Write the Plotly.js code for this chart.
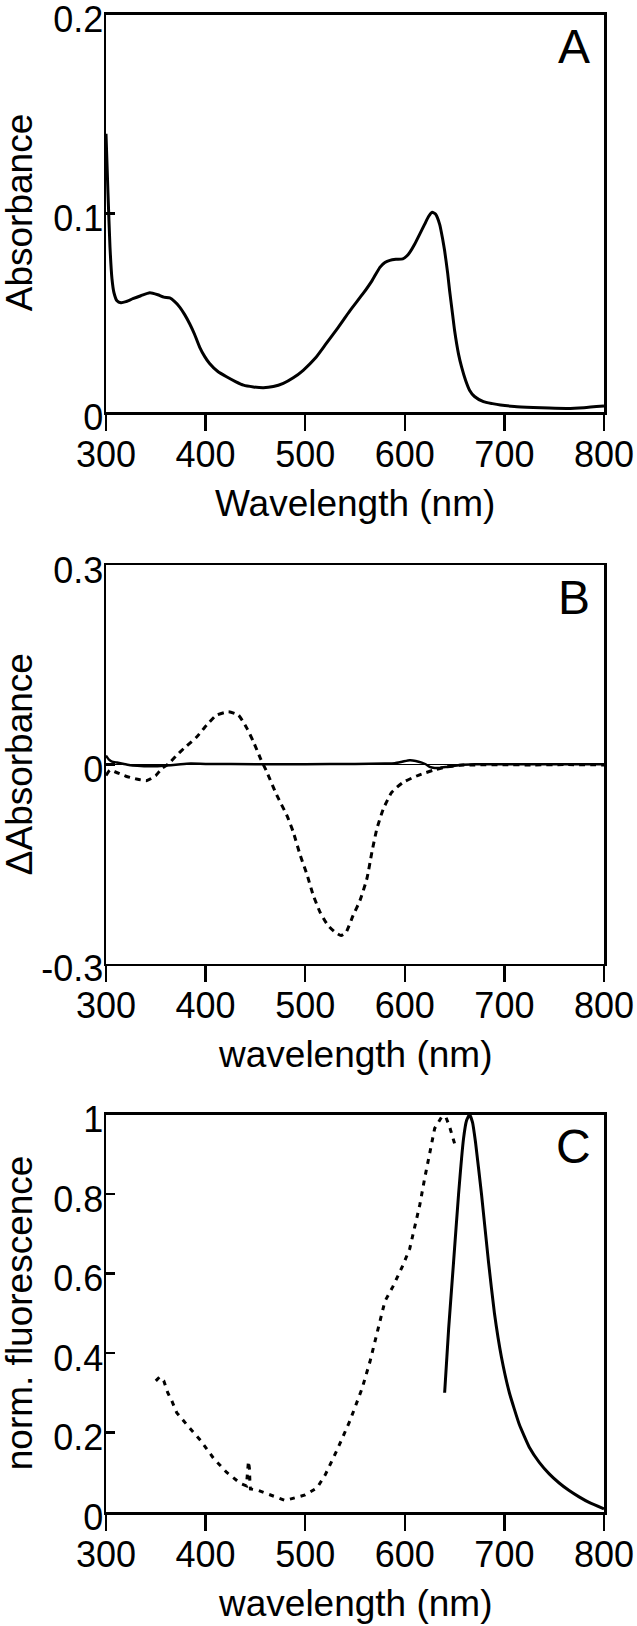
<!DOCTYPE html>
<html>
<head>
<meta charset="utf-8">
<script src="https://cdn.plot.ly/plotly-3.0.1.min.js"></script>
<style>html,body{margin:0;padding:0;background:#fff;}#chart{width:637px;height:1626px;}</style>
</head>
<body>
<div id="chart"></div>
<script>
// ---- Panel A: absorbance spectrum ----
const absWl  = [300,302,304,306,308,311,315,320,327,335,344,352,358,364,369,374,379,384,389,394,399,404,412,421,430,438,448,458,468,478,488,498,510,521,533,545,558,567,575,580,585,591,598,602,605,610,615,620,624,627.5,631,635,638,640,643,645,648,650,654,657,661,665,670,679,688,696,710,729,745,763,780,800];
const absVal = [0.14,0.11,0.083,0.067,0.060,0.056,0.055,0.0555,0.057,0.0585,0.060,0.059,0.0578,0.0574,0.0555,0.0528,0.049,0.0444,0.039,0.0327,0.028,0.0244,0.0205,0.0177,0.0153,0.0135,0.0126,0.0122,0.0128,0.0144,0.0172,0.021,0.027,0.0344,0.0425,0.051,0.0595,0.066,0.0728,0.0752,0.0763,0.0768,0.077,0.0785,0.0803,0.0845,0.0895,0.0945,0.0985,0.1005,0.0995,0.0944,0.087,0.0811,0.070,0.061,0.049,0.041,0.029,0.0227,0.016,0.011,0.0078,0.0052,0.0042,0.0035,0.0028,0.0023,0.002,0.0018,0.0022,0.003];

// ---- Panel B: difference spectra ----
const dDotWl  = [300,304,310,320,330,341,350,356,363,370,378,391,401,411,423,433,441.5,448,455,461.6,471.6,481.6,488,495,502,508,515,523,530,536,541,548,555,562,567,572,578.5,587,598.5,613.6,628.6,642,655,670,700,730,760,800];
const dDotVal = [-0.017,-0.009,-0.012,-0.018,-0.022,-0.0246,-0.017,-0.0065,0.001,0.012,0.0236,0.041,0.0588,0.074,0.079,0.074,0.054,0.034,0.009,-0.012,-0.047,-0.077,-0.102,-0.137,-0.167,-0.197,-0.223,-0.243,-0.253,-0.258,-0.253,-0.228,-0.205,-0.172,-0.132,-0.097,-0.067,-0.042,-0.027,-0.0166,-0.009,-0.004,-0.0015,-0.001,-0.0008,-0.001,-0.0005,-0.001];
const dSolWl  = [300,303,306,311,318,325,335,345,355,365,375,385,400,450,500,550,580,590,598,605,611,617,621,625,630,635,642,649,656,670,700,750,800];
const dSolVal = [0.013,0.007,0.004,0.0025,0.0005,-0.0015,-0.0025,-0.003,-0.0025,-0.0015,0,0.001,0.0005,0,0,0.0005,0.001,0.0015,0.004,0.006,0.005,0.0025,0,-0.004,-0.0055,-0.0055,-0.004,-0.0025,-0.001,0,0,0,0];

// ---- Panel C: normalized excitation (dotted) and emission (solid) ----
const excWl  = [350,354,358,362,366,371,381,395,408,421,435,441,443,444,444.5,445,452,465,480,500,512,520,532,545,557,565,573,580,588,598,605,610,615,620,625,630,637,641,645,650];
const excVal = [0.33,0.34,0.33,0.30,0.28,0.25,0.22,0.18,0.135,0.10,0.072,0.066,0.128,0.11,0.075,0.058,0.055,0.043,0.029,0.043,0.061,0.093,0.156,0.23,0.31,0.378,0.46,0.53,0.567,0.62,0.663,0.714,0.772,0.84,0.906,0.965,0.994,0.995,0.969,0.927];
const emWl  = [640,644,649,654,659,662,665,668,671,677,684,690,697,705,715,725,735,745,755,765,775,785,800];
const emVal = [0.30,0.46,0.63,0.80,0.94,0.985,1.0,0.98,0.93,0.80,0.63,0.50,0.39,0.30,0.22,0.163,0.125,0.096,0.073,0.054,0.038,0.024,0.008];

// ---- Tick labels and texts ----
const xTicks = [300,400,500,600,700,800];
const xTickText = ["300","400","500","600","700","800"];
const yTicksA = [0,0.1,0.2];   const yTextA = ["0","0.1","0.2"];
const yTicksB = [-0.3,0,0.3];  const yTextB = ["-0.3","0","0.3"];
const yTicksC = [0,0.2,0.4,0.6,0.8,1]; const yTextC = ["0","0.2","0.4","0.6","0.8","1"];
const xTitles = ["Wavelength (nm)","wavelength (nm)","wavelength (nm)"];
const yTitles = ["Absorbance","ΔAbsorbance","norm. fluorescence"];
const panelLetters = ["A","B","C"];

const FONT = "Liberation Sans, Arial, Helvetica, sans-serif";
const H = 1626, ML = 106, MR = 33, PW = 637 - ML - MR;
const py = p => (H - p) / H;          // pixel row -> paper y
const px = p => (p - ML) / PW;        // pixel col -> paper x

// panel pixel extents (top, bottom)
const panels = [[14.5, 412], [565, 963.5], [1114.5, 1512]];

const traces = [
  {x: absWl, y: absVal, xaxis:'x', yaxis:'y', mode:'lines', line:{color:'#000', width:3, shape:'spline', smoothing:0.5}},
  {x: dSolWl, y: dSolVal, xaxis:'x2', yaxis:'y2', mode:'lines', line:{color:'#000', width:2.5, shape:'spline', smoothing:0.5}},
  {x: dDotWl, y: dDotVal, xaxis:'x2', yaxis:'y2', mode:'lines', line:{color:'#000', width:3, dash:'6px,5px', shape:'spline', smoothing:0.5}},
  {x: excWl, y: excVal, xaxis:'x3', yaxis:'y3', mode:'lines', line:{color:'#000', width:3, dash:'5px,6px'}},
  {x: emWl, y: emVal, xaxis:'x3', yaxis:'y3', mode:'lines', line:{color:'#000', width:3, shape:'spline', smoothing:0.4}}
];

function xAx(anchor){
  return {anchor: anchor, domain:[0,1], range:[300,800], tickvals:xTicks, ticktext:xTickText,
    ticks:'outside', ticklen:16, tickwidth:2.5, tickcolor:'#000', ticklabelstandoff:-7, ticklabeloverflow:'allow',
    tickfont:{family:FONT, size:36, color:'#000'}, showline:true, mirror:true, linewidth:2.5, linecolor:'#000',
    showgrid:false, zeroline:false, fixedrange:true};
}
function yAx(anchor, dom, rng, tv, tt, zl){
  return {anchor: anchor, domain:dom, range:rng, tickvals:tv, ticktext:tt,
    ticks:'inside', ticklen:9, tickwidth:2.5, tickcolor:'#000', ticklabelstandoff:-7, ticklabelshift:5, ticklabeloverflow:'allow',
    tickfont:{family:FONT, size:36, color:'#000'}, showline:true, mirror:true, linewidth:2.5, linecolor:'#000',
    showgrid:false, zeroline:zl, zerolinecolor:'#000', zerolinewidth:1, fixedrange:true};
}

const annotations = [];
panels.forEach((p, i) => {
  const top = p[0], bot = p[1];
  annotations.push({text: yTitles[i], xref:'paper', yref:'paper', x: px(19), y: py((top+bot)/2),
    xanchor:'center', yanchor:'middle', textangle:-90, showarrow:false, font:{family:FONT, size:37, color:'#000'}});
  annotations.push({text: xTitles[i], xref:'paper', yref:'paper', x: px((ML + 637 - MR)/2), y: py(bot + 91),
    xanchor:'center', yanchor:'middle', showarrow:false, font:{family:FONT, size:37, color:'#000'}});
  annotations.push({text: panelLetters[i], xref:'paper', yref:'paper', x: px(573.5), y: py(top + 32),
    xanchor:'center', yanchor:'middle', showarrow:false, font:{family:FONT, size:48, color:'#000'}});
});

const layout = {
  width:637, height:1626, margin:{l:ML, r:MR, t:0, b:0},
  paper_bgcolor:'#fff', plot_bgcolor:'#fff', showlegend:false, hovermode:false,
  font:{family:FONT, color:'#000'},
  xaxis: xAx('y'), xaxis2: xAx('y2'), xaxis3: xAx('y3'),
  yaxis:  yAx('x',  [py(panels[0][1]), py(panels[0][0])], [0,0.2000001], yTicksA, yTextA, false),
  yaxis2: yAx('x2', [py(panels[1][1]), py(panels[1][0])], [-0.3,0.3], yTicksB, yTextB, true),
  yaxis3: yAx('x3', [py(panels[2][1]), py(panels[2][0])], [0,1], yTicksC, yTextC, false),
  annotations: annotations
};

Plotly.newPlot('chart', traces, layout, {staticPlot:true, displayModeBar:false});
</script>
</body>
</html>
